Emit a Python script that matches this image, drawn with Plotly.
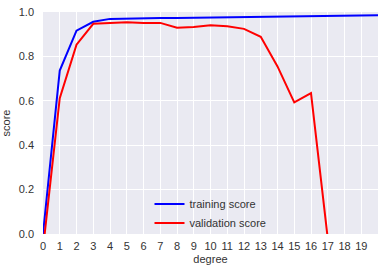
import plotly.graph_objects as go

degree = list(range(0, 21))
training_score = [0.0, 0.736, 0.916, 0.956, 0.969, 0.971, 0.972, 0.973, 0.973, 0.974, 0.975,
                  0.975, 0.977, 0.979, 0.980, 0.980, 0.980, 0.980, 0.984, 0.985, 0.985]
validation_score = [-0.067, 0.612, 0.853, 0.947, 0.951, 0.954, 0.950, 0.951, 0.929, 0.932, 0.940,
                    0.936, 0.924, 0.888, 0.755, 0.593, 0.635, -0.02, -5.0, -50.0, -500.0]
x_ticks = list(range(0, 20))
y_ticks = [0.0, 0.2, 0.4, 0.6, 0.8, 1.0]

font = "Liberation Sans, Arial, sans-serif"

fig = go.Figure()
fig.add_trace(go.Scatter(x=degree, y=training_score, mode="lines", name="training score",
                         line=dict(color="#0000FF", width=2)))
fig.add_trace(go.Scatter(x=degree, y=validation_score, mode="lines", name="validation score",
                         line=dict(color="#FF0000", width=2)))

fig.update_layout(
    width=385, height=273,
    margin=dict(l=43, r=7, t=12, b=39, autoexpand=False),
    paper_bgcolor="white", plot_bgcolor="#EAEAF2",
    font=dict(family=font, size=11, color="#333333"),
    legend=dict(x=0.5, xanchor="center", y=0.2, yanchor="top", bgcolor="rgba(0,0,0,0)",
                font=dict(size=11, color="#333333"), itemwidth=30, tracegroupgap=0),
    showlegend=True,
)
fig.update_xaxes(range=[0, 20], tickvals=x_ticks, ticktext=[str(v) for v in x_ticks],
                 showgrid=True, gridcolor="white", gridwidth=1, zeroline=False, showline=False,
                 ticks="", ticklabelstandoff=4,
                 title=dict(text="degree", standoff=4, font=dict(size=11)))
fig.update_yaxes(range=[0, 1], tickvals=y_ticks, ticktext=["%.1f" % v for v in y_ticks],
                 showgrid=True, gridcolor="white", gridwidth=1, zeroline=False, showline=False,
                 ticks="", ticklabelstandoff=8,
                 title=dict(text="score", standoff=6, font=dict(size=11)))

fig.write_html("out.html")
